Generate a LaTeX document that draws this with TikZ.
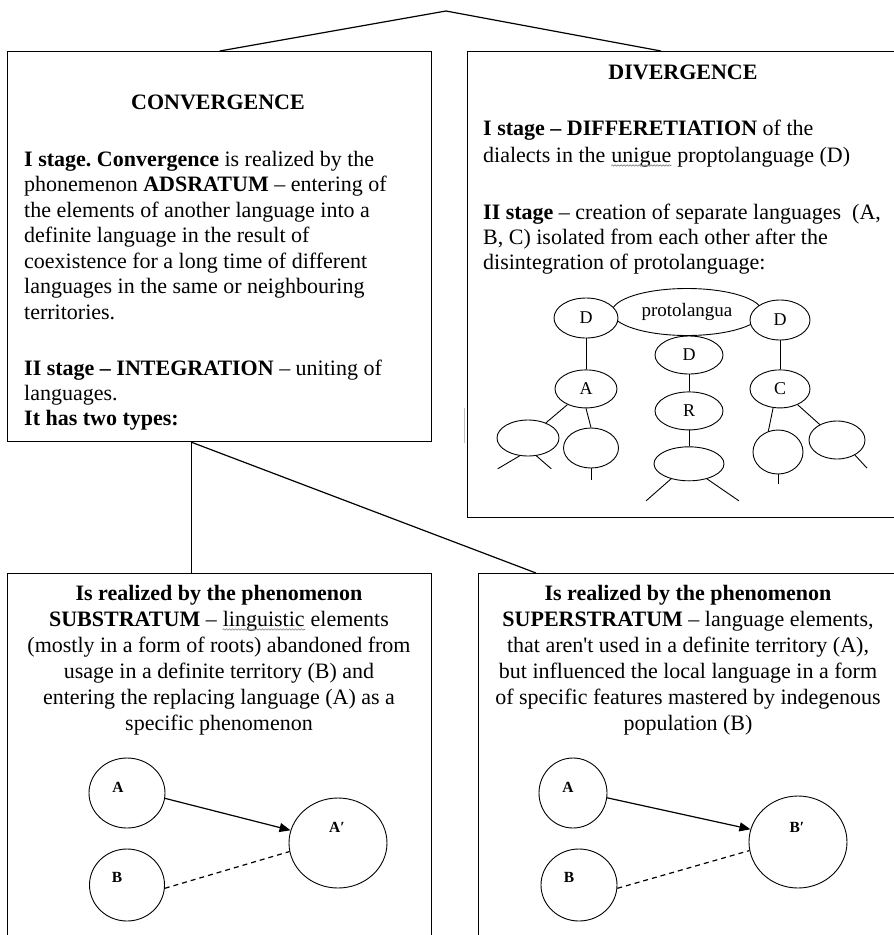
\documentclass[tikz,border=0pt]{standalone}
\usepackage{fontspec}
\setmainfont{Liberation Serif}
\usetikzlibrary{positioning,shapes,arrows.meta,calc,decorations.pathmorphing}
\frenchspacing

\newcommand{\spellmark}[1]{\tikz[baseline=(sw.base)]{\node[inner sep=0pt] (sw) {#1};
\draw[gray, line width=0.6pt, decorate, decoration={snake, amplitude=0.7pt, segment length=3pt}] ([yshift=-3.5pt]sw.base west) -- ([yshift=-3.5pt]sw.base east);}}

\tikzset{
  box/.style={draw, rectangle, line width=1.3pt, inner sep=0pt, anchor=north west},
  lnk/.style={line width=1.2pt},
  txt/.style={inner sep=0pt, anchor=base west, align=left, font=\fontsize{22}{25.5}\selectfont},
  ttl/.style={inner sep=0pt, font=\fontsize{22}{24}\selectfont\bfseries},
  dial/.style={ellipse, draw, fill=white, inner sep=0pt, line width=0.9pt, minimum width=64pt, minimum height=40pt, font=\fontsize{18}{18}\selectfont},
  leaf/.style={ellipse, draw, inner sep=0pt, line width=0.9pt},
  lang/.style={ellipse, draw, inner sep=0pt, line width=0.9pt},
  tag/.style={font=\fontsize{15.5}{15.5}\selectfont\bfseries}
}

\begin{document}
\begin{tikzpicture}[x=1pt, y=-1pt]
\useasboundingbox (0,0) rectangle (894,935);

\node[box, minimum width=424pt, minimum height=390pt] (conv) at (7,51) {};
\node[box, minimum width=460pt, minimum height=466pt] (div) at (467,51) {};
\node[box, minimum width=424pt, minimum height=420pt] (subs) at (7,573) {};
\node[box, minimum width=460pt, minimum height=420pt] (super) at (478,573) {};

\coordinate (top) at (446,11);
\draw[lnk] (top) -- (conv.north);
\draw[lnk] (top) -- ([xshift=194pt]div.north west);
\coordinate (split) at ([xshift=-28pt]conv.south);
\draw[lnk] (split) -- (split |- subs.north);
\draw[lnk] (split) -- ([xshift=58pt]super.north west);
\draw[gray!50, line width=1pt] ([xshift=-3pt,yshift=-357pt]div.north west) -- +(0,35);

\node[ttl] (convttl) at (218,102) {CONVERGENCE};
\node[txt] (convI) at (24,319) {\textbf{I stage. Convergence} is realized by the\\
phonemenon \textbf{ADSRATUM} – entering of\\
the elements of another language into a\\
definite language in the result of\\
coexistence for a long time of different\\
languages in the same or neighbouring\\
territories.};
\node[txt, font=\fontsize{22}{25}\selectfont] (convII) at (24,425) {\textbf{II stage – INTEGRATION} – uniting of\\
languages.\\
\textbf{It has two types:}};

\node[ttl] (divttl) at (683,72) {DIVERGENCE};
\node[txt, font=\fontsize{22}{27}\selectfont] (divI) at (483,162) {\textbf{I stage – DIFFERETIATION} of the\\
dialects in the \spellmark{unigue} proptolanguage (D)};
\node[txt, font=\fontsize{22}{25}\selectfont] (divII) at (483,269) {\textbf{II stage} – creation of separate languages~ (A,\\
B, C) isolated from each other after the\\
disintegration of protolanguage:};

\node[dial, minimum width=150pt, minimum height=47pt, font=\fontsize{19}{19}\selectfont] (proto) at (687,312) {protolangua};
\node[dial] (dl) at (586,318) {D};
\node[dial, minimum width=60pt] (dr) at (780,320) {D};
\node[dial, minimum width=68pt, minimum height=38pt] (dm) at (689,355) {D};
\node[dial, minimum width=62pt, minimum height=38pt, below = 31pt of dl] (ta) {A};
\node[dial, minimum width=68pt, minimum height=38pt, below = 17pt of dm] (tb) {R};
\node[dial, minimum width=60pt, minimum height=38pt, below = 29pt of dr] (tc) {C};
\node[leaf, minimum width=62pt, minimum height=36pt] (la1) at (528,438) {};
\node[leaf, minimum width=55pt, minimum height=40pt] (la2) at (591,448) {};
\node[leaf, minimum width=70pt, minimum height=34pt, below = 16pt of tb] (lb) {};
\node[leaf, minimum width=50pt, minimum height=44pt] (lc1) at (778,452) {};
\node[leaf, minimum width=56pt, minimum height=38pt] (lc2) at (837,440) {};

\path[line width=0.9pt] (dl) edge (ta) (dm) edge (tb) (dr) edge (tc);
\path[line width=0.9pt] (ta) edge (la1) (ta.south) edge (la2.north) (tb) edge (lb);
\path[line width=0.9pt] (tc.250) edge (lc1.115) (tc) edge (lc2);
\draw[line width=0.9pt] (la1.245) -- +(-22,13) (la1.295) -- +(15,13);
\draw[line width=0.9pt] (la2.south) -- +(0,12);
\draw[line width=0.9pt] (lb.220) -- +(-25,22) (lb.320) -- +(32,22);
\draw[line width=0.9pt] (lc1.south) -- +(0,10);
\draw[line width=0.9pt] (lc2.320) -- +(12,13);

\node[txt, anchor=base, align=center, font=\fontsize{22}{26}\selectfont] (substxt) at (219,730) {\textbf{Is realized by the phenomenon}\\
\textbf{SUBSTRATUM} – \spellmark{linguistic} elements\\
(mostly in a form of roots) abandoned from\\
usage in a definite territory (B) and\\
entering the replacing language (A) as a\\
specific phenomenon};
\node[txt, anchor=base, align=center, font=\fontsize{22}{26}\selectfont] (supertxt) at (688,730) {\textbf{Is realized by the phenomenon}\\
\textbf{SUPERSTRATUM} – language elements,\\
that aren\textquotesingle t used in a definite territory (A),\\
but influenced the local language in a form\\
of specific features mastered by indegenous\\
population (B)};

\node[lang, minimum width=76pt, minimum height=70pt, label={[tag, xshift=-9pt, yshift=6pt]center:A}] (sa) at (127,793) {};
\node[lang, minimum width=75pt, minimum height=72pt, label={[tag, xshift=-10pt, yshift=8pt]center:B}] (sb) at (127,885) {};
\node[lang, minimum width=98pt, minimum height=90pt, label={[tag, xshift=-1pt, yshift=16pt]center:A′}] (sap) at (338,843) {};
\draw[lnk, -{Triangle[length=11pt, width=9pt]}] (sa.-8) -- (sap.165);
\draw[lnk, dash pattern=on 5pt off 4pt] (sb.-5) -- (sap.190);

\node[lang, minimum width=68pt, minimum height=70pt, label={[tag, xshift=-5pt, yshift=6pt]center:A}] (pa) at (573,793) {};
\node[lang, minimum width=76pt, minimum height=72pt, label={[tag, xshift=-10pt, yshift=8pt]center:B}] (pb) at (579,885) {};
\node[lang, minimum width=98pt, minimum height=92pt, label={[tag, xshift=-1pt, yshift=15pt]center:B′}] (pbp) at (798,842) {};
\draw[lnk, -{Triangle[length=11pt, width=9pt]}] (pa.-8) -- (pbp.165);
\draw[lnk, dash pattern=on 5pt off 4pt] (pb.-5) -- (pbp.190);
\end{tikzpicture}
\end{document}
